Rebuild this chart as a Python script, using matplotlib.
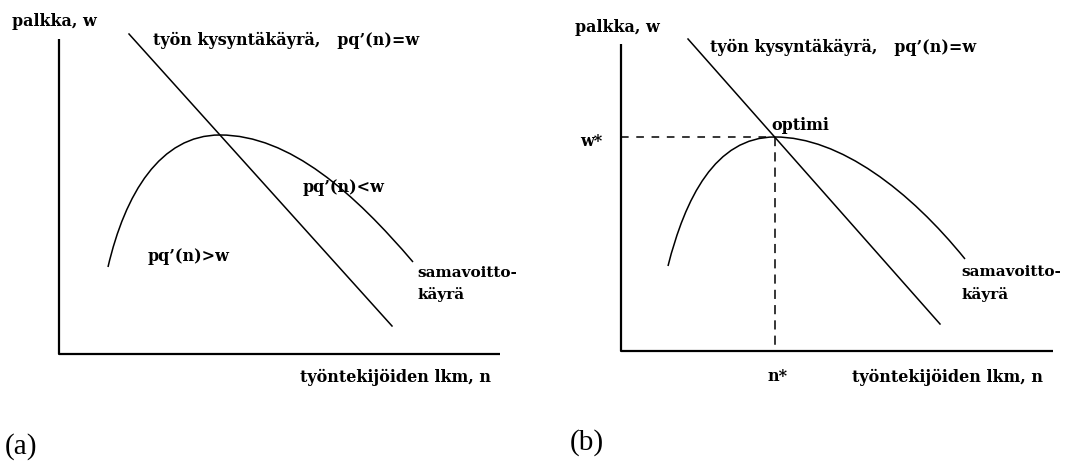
import matplotlib
matplotlib.use("Agg")
import matplotlib.pyplot as plt
from matplotlib.path import Path
from matplotlib.patches import PathPatch

# ---- data (in picture pixels) ----
# iso-profit curve: start, peak, end, with Bezier handles (n, w)
a_curve_n = [108, 125, 160, 220, 290, 355, 413]
a_curve_w = [268, 195, 136, 136, 136, 195, 263]
a_demand_n = [129, 392]
a_demand_w = [35, 327]

b_curve_n = [668, 685, 715, 775, 840, 910, 965]
b_curve_w = [267, 200, 138, 138, 138, 192, 260]
b_demand_n = [688, 940]
b_demand_w = [40, 325]
b_opt_n = 775
b_opt_w = 138

labels_title = "työn kysyntäkäyrä,   pq’(n)=w"
label_y = "palkka, w"
label_x = "työntekijöiden lkm, n"

fig = plt.figure(figsize=(10.65, 4.64), dpi=100)
ax = fig.add_axes([0, 0, 1, 1])
ax.set_xlim(0, 1065)
ax.set_ylim(464, 0)
ax.axis("off")

def bezier_curve(ax, xs, ys, lw=1.1):
    verts = list(zip(xs, ys))
    codes = [Path.MOVETO] + [Path.CURVE4] * (len(verts) - 1)
    ax.add_patch(PathPatch(Path(verts, codes), fill=False, lw=lw, ec="black"))

bold = dict(family="DejaVu Serif", fontweight="bold", fontsize=11.5, color="black", va="center", ha="left")
bold_s = dict(bold, fontsize=11)
plain = dict(family="Liberation Serif", fontsize=21, color="black", va="center", ha="left")

# ---- panel (a) ----
ax.plot([59, 59, 500], [40, 355, 355], color="black", lw=1.6, solid_capstyle="butt")
ax.plot(a_demand_n, a_demand_w, color="black", lw=1.1)
bezier_curve(ax, a_curve_n, a_curve_w)
ax.text(12, 22, label_y, **bold)
ax.text(153, 40, labels_title, **bold)
ax.text(303, 188, "pq’(n)<w", **bold)
ax.text(148, 257, "pq’(n)>w", **bold)
ax.text(417, 273, "samavoitto-", **bold_s)
ax.text(417, 295, "käyrä", **bold_s)
ax.text(300, 377, label_x, **bold)
ax.text(5, 447, "(a)", **plain)

# ---- panel (b) ----
ax.plot([621, 621, 1053], [45, 352, 352], color="black", lw=1.6, solid_capstyle="butt")
ax.plot(b_demand_n, b_demand_w, color="black", lw=1.1)
bezier_curve(ax, b_curve_n, b_curve_w)
ax.plot([621, b_opt_n], [b_opt_w, b_opt_w], color="black", lw=1.1, ls=(0, (5, 5)))
ax.plot([b_opt_n, b_opt_n], [b_opt_w, 352], color="black", lw=1.1, ls=(0, (6, 4)))
ax.text(575, 28, label_y, **bold)
ax.text(710, 47, labels_title, **bold)
ax.text(771, 125, "optimi", **bold)
ax.text(580, 142, "w*", **bold)
ax.text(767, 377, "n*", **bold)
ax.text(852, 377, label_x, **bold)
ax.text(961, 272, "samavoitto-", **bold_s)
ax.text(961, 295, "käyrä", **bold_s)
ax.text(570, 443, "(b)", **plain)

fig.savefig("out.png", dpi=100)
